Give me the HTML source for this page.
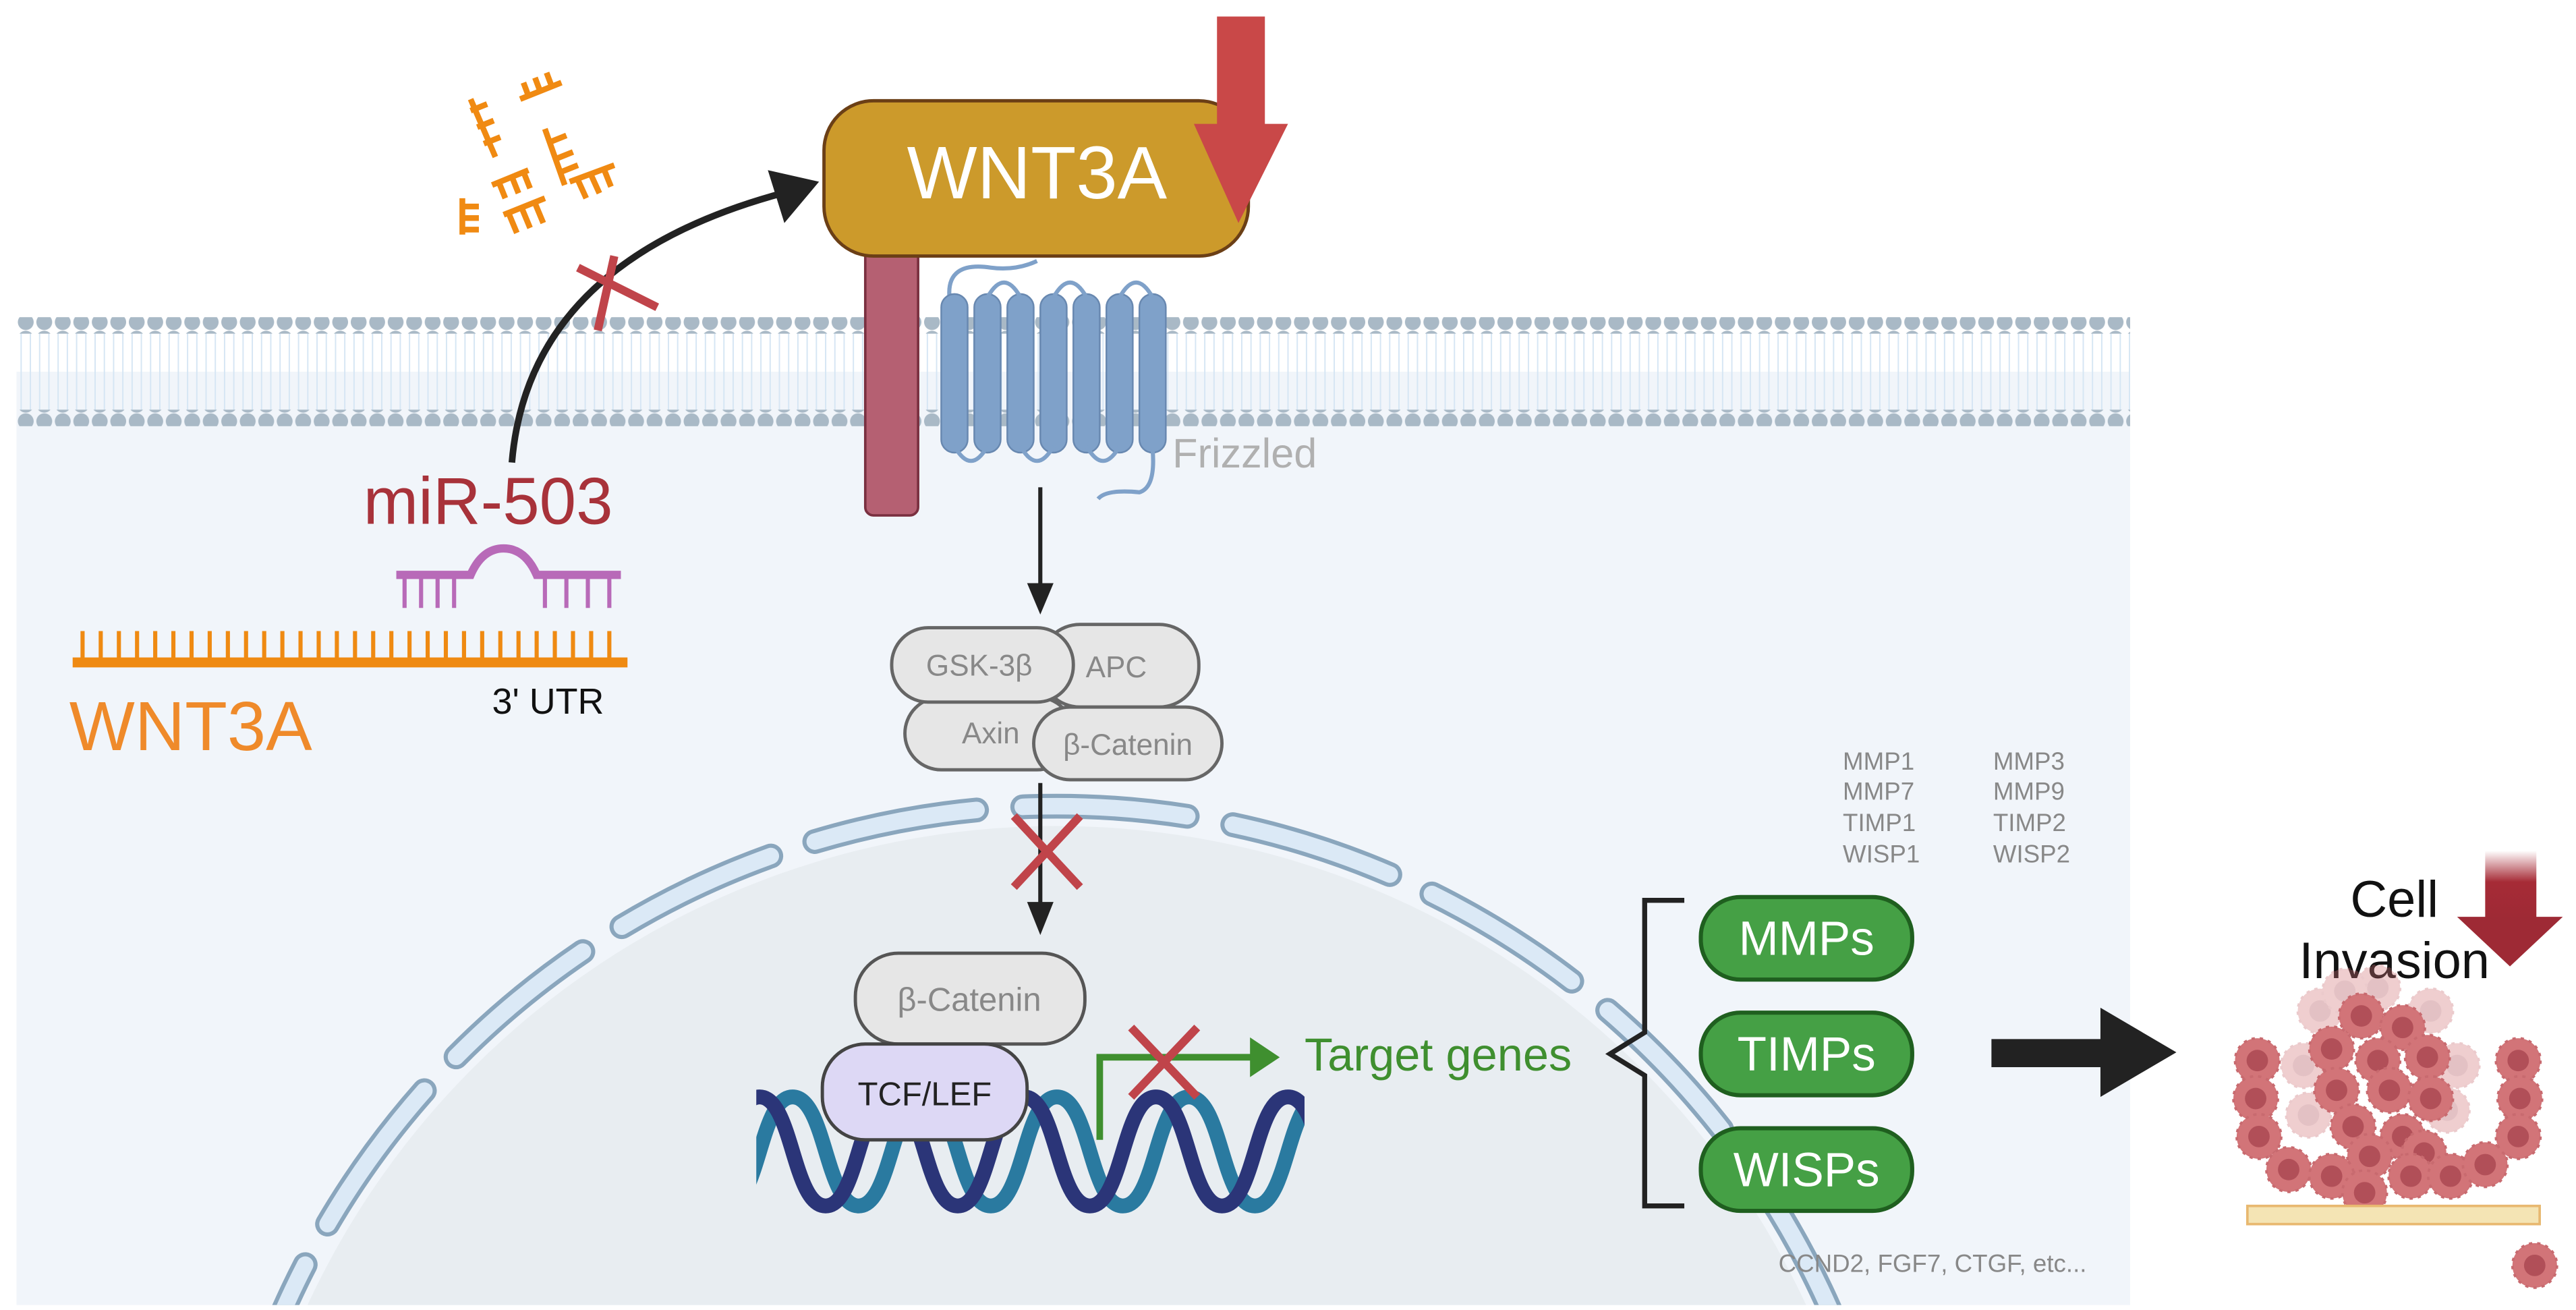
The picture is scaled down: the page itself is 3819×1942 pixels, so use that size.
<!DOCTYPE html>
<html><head><meta charset="utf-8"><style>
html,body{margin:0;padding:0;background:#fff;width:3819px;height:1942px;overflow:hidden;position:relative}
svg{display:block;position:absolute;left:0;top:0}
text{font-family:"Liberation Sans",sans-serif}
</style></head><body>
<svg width="3819" height="1942" viewBox="0 0 1560 793" preserveAspectRatio="none" xmlns="http://www.w3.org/2000/svg">
<defs>
<pattern id="dots" x="10" y="0" width="11.2" height="10" patternUnits="userSpaceOnUse"><circle cx="5.6" cy="5" r="4.8" fill="#a9b9c6"/></pattern>
<pattern id="tails" x="10" y="0" width="5.6" height="10" patternUnits="userSpaceOnUse"><line x1="2.8" y1="0" x2="2.8" y2="10" stroke="#d6e6f4" stroke-width="0.8"/></pattern>
<linearGradient id="rg" x1="0" y1="0" x2="0" y2="1"><stop offset="0" stop-color="#a62b36" stop-opacity="0"/><stop offset="0.45" stop-color="#a62b36"/><stop offset="1" stop-color="#9e2a35"/></linearGradient>
<clipPath id="cellclip"><rect x="10" y="190" width="1280" height="600"/></clipPath>
<clipPath id="dnaclip"><rect x="458" y="640" width="332" height="110"/></clipPath>
<g id="tc"><circle r="13.5" fill="#d27478" stroke="#c86a6f" stroke-width="1.5" stroke-dasharray="2 3"/><circle r="6.5" fill="#b14f58"/></g>
</defs>
<rect x="10" y="225" width="1280" height="565" fill="#f1f5fa"/>
<g clip-path="url(#cellclip)">
<circle cx="640" cy="1000" r="500" fill="#e8edf1"/>
<circle cx="640" cy="1000" r="512" fill="none" stroke="#8aa6bd" stroke-width="15" stroke-dasharray="100 28" stroke-linecap="round" stroke-dashoffset="40"/>
<circle cx="640" cy="1000" r="512" fill="none" stroke="#dbe9f6" stroke-width="10" stroke-dasharray="100 28" stroke-linecap="round" stroke-dashoffset="40"/>
</g>
<rect x="10" y="202" width="1280" height="46" fill="url(#tails)"/>
<rect x="10" y="192" width="1280" height="10" fill="url(#dots)"/>
<rect x="10" y="248" width="1280" height="10" fill="url(#dots)"/>

<g stroke="#f08a12" stroke-width="3.5" fill="none">
<path d="M285 60 L300 95 M285 67 L295 63 M289 77 L299 73 M293 87 L303 83"/>
<path d="M315 60 L340 50 M320 58 L317 50 M327 55 L324 47 M334 52 L331 44"/>
<path d="M330 78 L342 112 M333 86 L343 82 M337 96 L347 92 M340 104 L350 100"/>
<path d="M298 112 L320 103 M302 110 L306 120 M310 107 L314 117 M317 104 L321 114"/>
<path d="M280 120 L280 142 M280 125 L290 125 M280 132 L290 132 M280 139 L290 139"/>
<path d="M305 130 L330 120 M308 129 L313 141 M316 126 L321 138 M324 123 L329 135"/>
<path d="M345 110 L372 100 M350 109 L355 120 M358 106 L363 117 M366 103 L370 113"/>
</g>
<path d="M310 280 Q320 160 470 118" fill="none" stroke="#222" stroke-width="4"/>
<polygon points="496,110 465,103 475,135" fill="#222"/>
<path d="M350 162 L398 186 M372 155 L362 200" stroke="#c0444a" stroke-width="5"/>

<rect x="524" y="140" width="32" height="172" rx="5" fill="#b56072" stroke="#7a3040" stroke-width="1.5"/>
<rect x="499" y="61" width="257" height="94" rx="30" fill="#cc9a2b" stroke="#6b3f16" stroke-width="2"/>
<text x="628" y="120" font-size="45" fill="#fff" text-anchor="middle">WNT3A</text>
<rect x="737" y="10" width="29" height="66" fill="#c94848"/>
<polygon points="723,75 780,75 750,135" fill="#c94848"/>

<path d="M575 180 Q573 158 600 162 Q615 164 628 158" fill="none" stroke="#7fa1c9" stroke-width="2.5"/>
<g fill="#7fa1c9" stroke="#6888b0" stroke-width="1">
<rect x="570" y="178" width="16" height="96" rx="8"/><rect x="590" y="178" width="16" height="96" rx="8"/>
<rect x="610" y="178" width="16" height="96" rx="8"/><rect x="630" y="178" width="16" height="96" rx="8"/>
<rect x="650" y="178" width="16" height="96" rx="8"/><rect x="670" y="178" width="16" height="96" rx="8"/>
<rect x="690" y="178" width="16" height="96" rx="8"/>
</g>
<g fill="none" stroke="#7fa1c9" stroke-width="2.5">
<path d="M578 270 Q588 288 598 270"/><path d="M618 270 Q628 288 638 270"/><path d="M658 270 Q668 288 678 270"/>
<path d="M598 180 Q608 162 618 180"/><path d="M638 180 Q648 162 658 180"/><path d="M678 180 Q688 162 698 180"/>
<path d="M698 272 Q700 295 690 298 Q670 296 665 302"/>
</g>
<text x="710" y="283" font-size="25" fill="#b0b0b0">Frizzled</text>

<text x="220" y="317" font-size="40" fill="#a8323a">miR-503</text>
<g stroke="#b86ab8" fill="none">
<path d="M240 348 L285 348 Q292 332 305 332 Q318 332 325 348 L376 348" stroke-width="5"/>
<path d="M245 348 V368 M255 348 V368 M265 348 V368 M275 348 V368 M330 348 V368 M343 348 V368 M356 348 V368 M369 348 V368" stroke-width="2.5"/>
</g>
<g stroke="#ef8a12">
<line x1="44" y1="401" x2="380" y2="401" stroke-width="6"/>
<path d="M50 400V382 M61 400V382 M72 400V382 M83 400V382 M94 400V382 M105 400V382 M116 400V382 M127 400V382 M138 400V382 M149 400V382 M160 400V382 M171 400V382 M182 400V382 M193 400V382 M204 400V382 M215 400V382 M226 400V382 M237 400V382 M248 400V382 M259 400V382 M270 400V382 M281 400V382 M292 400V382 M303 400V382 M314 400V382 M325 400V382 M336 400V382 M347 400V382 M358 400V382 M369 400V382" stroke-width="2.5"/>
</g>
<text x="42" y="454" font-size="42" fill="#ef8a2a">WNT3A</text>
<text x="298" y="432" font-size="22" fill="#111">3' UTR</text>

<line x1="630" y1="295" x2="630" y2="355" stroke="#222" stroke-width="2.5"/>
<polygon points="622,353 638,353 630,372" fill="#222"/>
<g fill="#e6e6e6" stroke="#666" stroke-width="2">
<rect x="548" y="422" width="102" height="44" rx="22"/>
<rect x="630" y="378" width="96" height="50" rx="24"/>
<rect x="540" y="380" width="110" height="45" rx="22"/>
<rect x="626" y="428" width="114" height="44" rx="22"/>
</g>
<g font-size="18" fill="#888" text-anchor="middle">
<text x="593" y="409">GSK-3β</text><text x="676" y="410">APC</text>
<text x="600" y="450">Axin</text><text x="683" y="457">β-Catenin</text>
</g>
<line x1="630" y1="474" x2="630" y2="548" stroke="#222" stroke-width="2.5"/>
<polygon points="622,546 638,546 630,566" fill="#222"/>
<path d="M614 494 L654 537 M654 494 L614 537" stroke="#c0444a" stroke-width="5"/>

<g fill="none" stroke-width="9" clip-path="url(#dnaclip)">
<path d="M440 730 C460 730 460 664 480 664 C500 664 500 730 520 730 C540 730 540 664 560 664 C580 664 580 730 600 730 C620 730 620 664 640 664 C660 664 660 730 680 730 C700 730 700 664 720 664 C740 664 740 730 760 730 C780 730 780 664 800 664" stroke="#2a7aa0"/>
<path d="M420 730 C440 730 440 664 460 664 C480 664 480 730 500 730 C520 730 520 664 540 664 C560 664 560 730 580 730 C600 730 600 664 620 664 C640 664 640 730 660 730 C680 730 680 664 700 664 C720 664 720 730 740 730 C760 730 760 664 780 664 C800 664 800 730 820 730" stroke="#2b3578"/>
</g>
<rect x="518" y="577" width="139" height="55" rx="26" fill="#e6e6e6" stroke="#555" stroke-width="2"/>
<text x="587" y="612" font-size="20" fill="#888" text-anchor="middle">β-Catenin</text>
<rect x="498" y="632" width="124" height="58" rx="26" fill="#ddd8f5" stroke="#444" stroke-width="2"/>
<text x="560" y="669" font-size="20" fill="#222" text-anchor="middle">TCF/LEF</text>
<path d="M666 690 V640 H760" fill="none" stroke="#3f8f2f" stroke-width="4"/>
<polygon points="757,628 775,640 757,652" fill="#3f8f2f"/>
<path d="M685 622 L725 664 M725 622 L685 664" stroke="#c0444a" stroke-width="5"/>
<text x="790" y="648" font-size="28" fill="#3f8f2f">Target genes</text>
<path d="M1020 545 H996 V625 L975 638 L996 651 V730 H1020" fill="none" stroke="#222" stroke-width="3"/>
<g fill="#45a045" stroke="#1f5f1f" stroke-width="2.5">
<rect x="1030" y="543" width="128" height="50" rx="24"/>
<rect x="1030" y="613" width="128" height="50" rx="24"/>
<rect x="1030" y="683" width="128" height="50" rx="24"/>
</g>
<g font-size="29" fill="#fff" text-anchor="middle">
<text x="1094" y="578">MMPs</text><text x="1094" y="648">TIMPs</text><text x="1094" y="718">WISPs</text>
</g>
<g font-size="15" fill="#888">
<text x="1116" y="466">MMP1</text><text x="1116" y="484">MMP7</text><text x="1116" y="503">TIMP1</text><text x="1116" y="522">WISP1</text>
<text x="1207" y="466">MMP3</text><text x="1207" y="484">MMP9</text><text x="1207" y="503">TIMP2</text><text x="1207" y="522">WISP2</text>
<text x="1077" y="770">CCND2, FGF7, CTGF, etc...</text>
</g>
<rect x="1206" y="629" width="70" height="17" fill="#222"/>
<polygon points="1272,610 1318,637 1272,664" fill="#222"/>

<rect x="1505" y="515" width="31" height="42" fill="url(#rg)"/>
<polygon points="1488,555 1552,555 1520,585" fill="#9e2a35"/>
<text x="1450" y="555" font-size="31" fill="#111" text-anchor="middle">Cell</text>
<text x="1450" y="592" font-size="31" fill="#111" text-anchor="middle">Invasion</text>
<g opacity="0.35">
<use href="#tc" x="1405" y="612"/><use href="#tc" x="1472" y="612"/><use href="#tc" x="1395" y="645"/><use href="#tc" x="1488" y="645"/><use href="#tc" x="1440" y="598"/><use href="#tc" x="1420" y="600"/><use href="#tc" x="1398" y="675"/><use href="#tc" x="1482" y="672"/>
</g>
<use href="#tc" x="1430" y="615"/><use href="#tc" x="1455" y="622"/><use href="#tc" x="1412" y="635"/><use href="#tc" x="1470" y="640"/><use href="#tc" x="1440" y="642"/>
<use href="#tc" x="1415" y="660"/><use href="#tc" x="1447" y="660"/><use href="#tc" x="1472" y="665"/><use href="#tc" x="1425" y="682"/><use href="#tc" x="1455" y="688"/><use href="#tc" x="1435" y="700"/><use href="#tc" x="1468" y="698"/>
<use href="#tc" x="1367" y="642"/><use href="#tc" x="1366" y="665"/><use href="#tc" x="1368" y="688"/><use href="#tc" x="1386" y="708"/><use href="#tc" x="1412" y="712"/>
<use href="#tc" x="1432" y="722"/><use href="#tc" x="1460" y="712"/><use href="#tc" x="1484" y="712"/><use href="#tc" x="1505" y="705"/>
<use href="#tc" x="1525" y="642"/><use href="#tc" x="1526" y="665"/><use href="#tc" x="1525" y="688"/>
<rect x="1361" y="730" width="177" height="11" fill="#f4e4b4" stroke="#e8b870" stroke-width="1.5"/>
<use href="#tc" x="1535" y="766"/>
</svg>
</body></html>
